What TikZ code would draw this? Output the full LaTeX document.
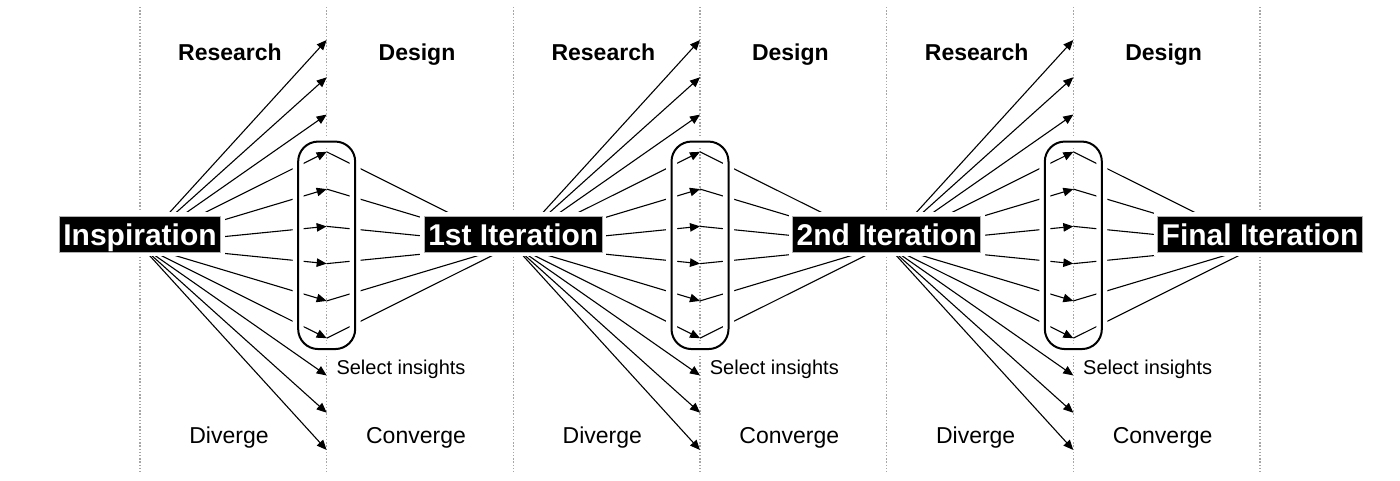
\documentclass[tikz,border=0pt]{standalone}
\usepackage{fontspec}
\setmainfont{Liberation Sans}
\usetikzlibrary{arrows.meta}
\begin{document}
\begin{tikzpicture}[x=1pt,y=-1pt,
  dots/.style={draw=black!35, line width=1.3pt, dash pattern=on 1.3pt off 1.9pt},
  ray/.style={line width=1.1pt, -{Triangle[length=10pt,width=8.5pt]}},
  conv/.style={line width=1.1pt},
  selbox/.style={draw=black, line width=2pt, rounded corners=20pt, minimum width=57pt, minimum height=207.5pt, inner sep=0pt, preaction={draw=white,line width=11pt}},
  stage/.style={fill=black, text=white, font=\bfseries\fontsize{30}{30}\selectfont, inner xsep=4pt, inner ysep=0pt, text height=29pt, text depth=7pt, anchor=base, draw=black!30, line width=0.8pt, preaction={draw=white,line width=8pt}},
  head/.style={font=\bfseries\fontsize{23}{23}\selectfont, anchor=base},
  foot/.style={font=\fontsize{23}{23}\selectfont, anchor=base},
  note/.style={font=\fontsize{20}{20}\selectfont, anchor=base west}]
\useasboundingbox (0,0) rectangle (1400,480);
% dotted guides
\foreach \i in {0,...,6}
  \draw[dots] (140+186.667*\i, 7) -- (140+186.667*\i, 473);
% fan centres and arrow tips
\foreach \k in {0,...,3}
  \coordinate (c\k) at (140+373.333*\k, 245);
\foreach \k in {0,1,2}
  \foreach \i in {1,...,12}
    \coordinate (t\k-\i) at (326.667+373.333*\k, 245+37.27*\i-242.255);
% diverging rays
\foreach \k in {0,1,2}
  \foreach \i in {1,...,12}
    \draw[ray] (c\k) -- (t\k-\i);
% converging lines
\foreach \k/\n in {0/1,1/2,2/3}
  \foreach \i in {4,...,9}
    \draw[conv] (t\k-\i) -- (c\n);
% selection boxes
\foreach \k in {0,1,2}
  \node[selbox] (sel\k) at (326.667+373.333*\k, 245.3) {};
% stages
\node[stage] (s0) at (c0) {Inspiration};
\node[stage] (s1) at (c1) {1st Iteration};
\node[stage] (s2) at (c2) {2nd Iteration};
\node[stage] (s3) at (c3) {Final Iteration};
% labels
\foreach \k in {0,1,2} {
  \node[head] (res\k) at (230+373.333*\k, 60) {Research};
  \node[head] (des\k) at (417+373.333*\k, 60) {Design};
  \node[foot] (div\k) at (229+373.333*\k, 443) {Diverge};
  \node[foot] (con\k) at (416+373.333*\k, 443) {Converge};
  \node[note] (ins\k) at (333+373.333*\k, 374) {Select insights};
}
\end{tikzpicture}
\end{document}
